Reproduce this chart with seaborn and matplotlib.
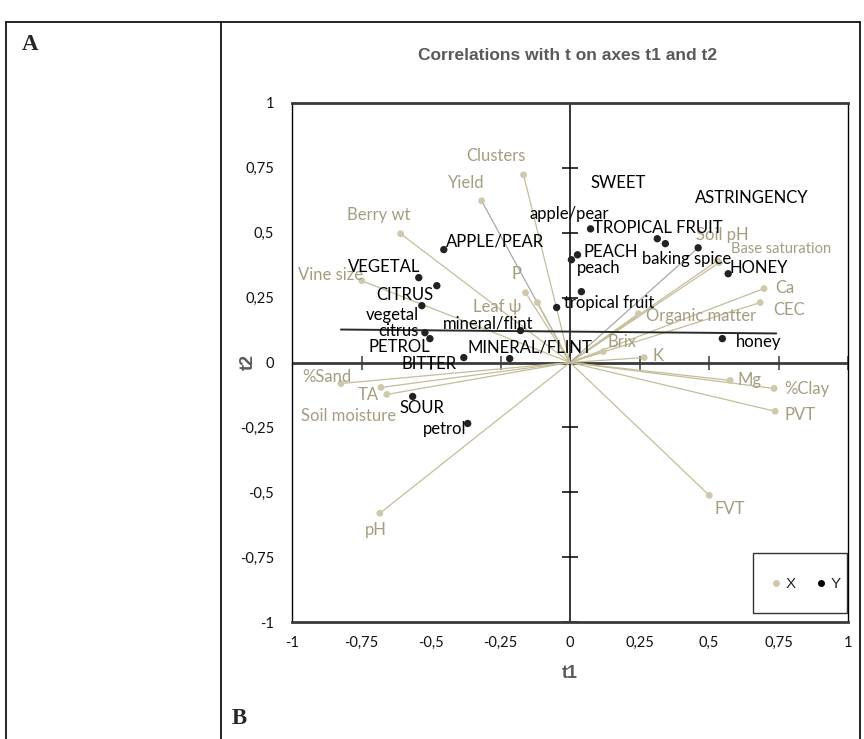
import numpy as np
import pandas as pd
import matplotlib
matplotlib.use("Agg")
import matplotlib.pyplot as plt
from matplotlib.lines import Line2D
from matplotlib.patches import Rectangle
import seaborn as sns

# ---- Explanatory variables (X): correlations with t1 / t2 ----
x_names = ["Clusters", "Yield", "Berry wt", "Vine size", "P", "Leaf ψ",
           "Soil pH", "Base saturation", "Ca", "CEC", "Organic matter",
           "Brix", "K", "Mg", "%Clay", "PVT", "FVT", "%Sand", "TA",
           "Soil moisture", "pH"]
x_t1 = [-0.167, -0.318, -0.609, -0.749, -0.160, -0.117,
        0.530, 0.537, 0.698, 0.684, 0.246,
        0.120, 0.267, 0.576, 0.734, 0.738, 0.501, -0.824, -0.680,
        -0.659, -0.684]
x_t2 = [0.723, 0.623, 0.496, 0.315, 0.269, 0.231,
        0.392, 0.385, 0.285, 0.231, 0.188,
        0.042, 0.019, -0.069, -0.100, -0.188, -0.512, -0.081, -0.096,
        -0.123, -0.581]

# ---- Sensory attributes (Y): correlations with t1 / t2 ----
y_names = ["TROPICAL FRUIT", "SWEET", "baking spice", "ASTRINGENCY",
           "PEACH", "peach", "HONEY", "apple/pear", "honey", "APPLE/PEAR",
           "VEGETAL", "CITRUS", "vegetal", "citrus", "PETROL", "BITTER",
           "MINERAL/FLINT", "mineral/flint", "tropical fruit", "SOUR",
           "petrol"]
y_t1 = [0.074, 0.314, 0.343, 0.461, 0.027, 0.005, 0.569, 0.041, 0.548,
        -0.454, -0.544, -0.479, -0.533, -0.522, -0.504, -0.382, -0.217,
        -0.178, -0.048, -0.566, -0.368]
y_t2 = [0.515, 0.477, 0.458, 0.442, 0.415, 0.396, 0.342, 0.273, 0.092,
        0.435, 0.327, 0.296, 0.219, 0.115, 0.092, 0.019, 0.015,
        0.123, 0.212, -0.131, -0.235]

# Fitted trend line across the plane
trend_t1 = [-0.824, 0.742]
trend_t2 = [0.127, 0.112]

ticks = [-1, -0.75, -0.5, -0.25, 0, 0.25, 0.5, 0.75, 1]
tick_labels = ["-1", "-0,75", "-0,5", "-0,25", "0", "0,25", "0,5", "0,75", "1"]

# label offsets from each marker, in pixels (dx right, dy up)
x_label_offsets = {
    "Clusters": (-28, 19), "Yield": (-15, 18), "Berry wt": (-22, 19),
    "Vine size": (-31, 6), "P": (-9, 19), "Leaf ψ": (-40, -4),
    "Soil pH": (5, 26), "Base saturation": (62, 14), "Ca": (21, 1),
    "CEC": (29, -7), "Organic matter": (63, -2), "Brix": (19, 10),
    "K": (14, 2), "Mg": (19, 0), "%Clay": (33, -1), "PVT": (25, -4),
    "FVT": (20, -14), "%Sand": (-14, 7), "TA": (-13, -8),
    "Soil moisture": (-38, -22), "pH": (-4, -17),
}
y_label_offsets = {
    "TROPICAL FRUIT": (67, 1), "SWEET": (-39, 56), "baking spice": (21, -15),
    "ASTRINGENCY": (54, 50), "PEACH": (33, 3), "peach": (27, -8),
    "HONEY": (31, 6), "apple/pear": (-12, 78), "honey": (36, -3),
    "APPLE/PEAR": (51, 8), "VEGETAL": (-35, 11), "CITRUS": (-32, -9),
    "vegetal": (-29, -9), "citrus": (-26, 2), "PETROL": (-31, -8),
    "BITTER": (-35, -6), "MINERAL/FLINT": (20, 11), "mineral/flint": (-32, 7),
    "tropical fruit": (52, 4), "SOUR": (9, -12), "petrol": (-23, -6),
}

TAN_TEXT = "#a49d80"
TAN_PT = "#cfc8ac"
TAN_LINE = "#c5bd98"
GREY_LINE = "#a8a8a8"
DARK = "#222222"
LBL_FONT = ["Lato", "DejaVu Sans"]
HEAD_FONT = ["Liberation Sans Narrow", "Liberation Sans", "DejaVu Sans"]

sns.set_style("white")
plt.rcParams["font.family"] = LBL_FONT

fig = plt.figure(figsize=(8.64, 7.39), dpi=100)
ax = fig.add_axes([292 / 864, 1 - 622 / 739, 556 / 864, 519 / 739])

xdf = pd.DataFrame({"name": x_names, "t1": x_t1, "t2": x_t2})
ydf = pd.DataFrame({"name": y_names, "t1": y_t1, "t2": y_t2})

# vectors from the origin to every explanatory variable (plus astringency)
vec_names = x_names + ["ASTRINGENCY"]
vec_t1 = x_t1 + [y_t1[y_names.index("ASTRINGENCY")]]
vec_t2 = x_t2 + [y_t2[y_names.index("ASTRINGENCY")]]
rows = []
for n, a, b in zip(vec_names, vec_t1, vec_t2):
    rows.append({"name": n, "t1": 0.0, "t2": 0.0, "step": 0})
    rows.append({"name": n, "t1": a, "t2": b, "step": 1})
vec = pd.DataFrame(rows)
vec_palette = {n: TAN_LINE for n in vec_names}
vec_palette["Yield"] = GREY_LINE
vec_palette["ASTRINGENCY"] = GREY_LINE
sns.lineplot(data=vec, x="t1", y="t2", hue="name", palette=vec_palette,
             estimator=None, sort=False, legend=False, lw=0.9, ax=ax, zorder=2)

# zero axes with tick marks
ax.axhline(0, color="#3a3a3a", lw=2, zorder=1)
ax.axvline(0, color="black", lw=1.1, zorder=1)
ax.plot(ticks, [0] * len(ticks), ls="none", marker="|", ms=10, mew=1.1,
        color="#3a3a3a", zorder=1)
ax.plot([0] * len(ticks), ticks, ls="none", marker="_", ms=11, mew=1.1,
        color="black", zorder=1)

trend = pd.DataFrame({"t1": trend_t1, "t2": trend_t2})
sns.lineplot(data=trend, x="t1", y="t2", color="#2a2a2a", lw=1.4,
             estimator=None, sort=False, ax=ax, zorder=3)

sns.scatterplot(data=xdf, x="t1", y="t2", color=TAN_PT, s=24,
                edgecolor="none", ax=ax, zorder=4, label="X")
sns.scatterplot(data=ydf, x="t1", y="t2", color=DARK, s=28,
                edgecolor="none", ax=ax, zorder=4, label="Y")

for n, a, b in zip(x_names, x_t1, x_t2):
    fs = 10.5 if n == "Base saturation" else 12
    ax.annotate(n, (a, b), xytext=x_label_offsets[n], textcoords="offset pixels",
                ha="center", va="center", fontsize=fs, color=TAN_TEXT,
                family=LBL_FONT, zorder=5)
for n, a, b in zip(y_names, y_t1, y_t2):
    ax.annotate(n, (a, b), xytext=y_label_offsets[n], textcoords="offset pixels",
                ha="center", va="center", fontsize=12, color="black",
                family=LBL_FONT, zorder=5)

ax.set_xlim(-1, 1)
ax.set_ylim(-1, 1)
ax.set_xticks(ticks)
ax.set_yticks(ticks)
ax.set_xticklabels(tick_labels, fontsize=10.5, color="#111111")
ax.set_yticklabels(tick_labels, fontsize=10.5, color="#111111")
ax.tick_params(axis="x", length=0, pad=10)
ax.tick_params(axis="y", length=0, pad=13)
ax.set_xlabel("")
ax.set_ylabel("")
ax.grid(False)
for side, lw, col in [("top", 2, "#3a3a3a"), ("bottom", 2, "#3a3a3a"),
                      ("left", 1, "black"), ("right", 1, "black")]:
    ax.spines[side].set_visible(True)
    ax.spines[side].set_linewidth(lw)
    ax.spines[side].set_color(col)

# legend box
ax.add_patch(Rectangle((0.829, 0.017), 0.169, 0.116, transform=ax.transAxes,
                       fill=True, facecolor="white", edgecolor="#333333",
                       lw=1, zorder=6))
handles = [Line2D([], [], ls="none", marker="o", ms=4, color=TAN_PT),
           Line2D([], [], ls="none", marker="o", ms=4, color="black")]
ax.legend(handles, ["X", "Y"], loc="center", bbox_to_anchor=(0.922, 0.073),
          ncol=2, frameon=False, handletextpad=0.1,
          columnspacing=1.2, handlelength=1.0,
          prop={"family": HEAD_FONT, "size": 11}).set_zorder(7)

# titles and axis names
fig.text(568 / 864, 1 - 56 / 739, "Correlations with t on axes t1 and t2",
         ha="center", va="center", fontsize=12.5, fontweight="bold",
         color="#595959", family=HEAD_FONT)
fig.text(570 / 864, 1 - 673 / 739, "t1", ha="center", va="center",
         fontsize=13, fontweight="bold", color="#595959", family=HEAD_FONT)
fig.text(248 / 864, 1 - 362 / 739, "t2", ha="center", va="center",
         rotation=90, fontsize=13, fontweight="bold", color="#595959",
         family=HEAD_FONT)

# panel frame
for (x0, y0, x1, y1) in [(6, 22, 860, 22), (6, 22, 6, 739),
                         (221, 22, 221, 739), (860, 22, 860, 739)]:
    fig.add_artist(Line2D([x0 / 864, x1 / 864], [1 - y0 / 739, 1 - y1 / 739],
                          color="black", lw=1.2))
fig.text(22 / 864, 1 - 45 / 739, "A", ha="left", va="center", fontsize=16.5,
         fontweight="bold", family=["Liberation Serif", "DejaVu Serif"])
fig.text(232 / 864, 1 - 718 / 739, "B", ha="left", va="center", fontsize=16.5,
         fontweight="bold", family=["Liberation Serif", "DejaVu Serif"])

fig.savefig("out.png", dpi=100, facecolor="white")
